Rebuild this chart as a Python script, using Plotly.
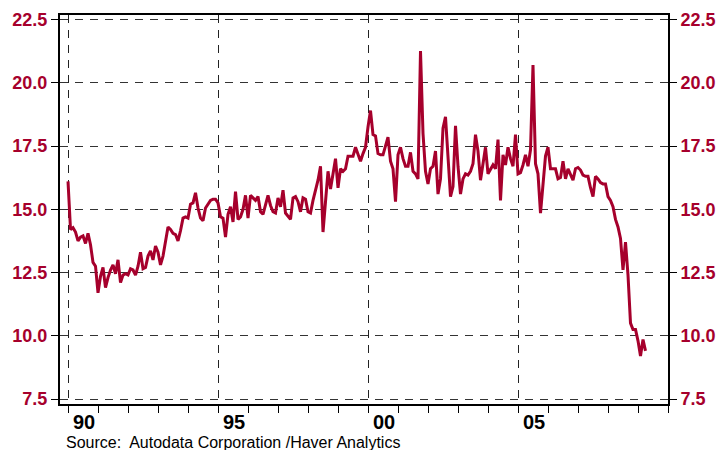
import plotly.graph_objects as go

# Monthly values, Jan 1990 .. Apr 2009 (millions of units, SAAR)
start_year = 1990
values = [
    16.1, 14.2, 14.27, 14.1, 13.75, 13.9, 13.95, 13.65, 14.05, 13.6, 12.9, 12.75,   # 1990
    11.7, 12.35, 12.7, 11.9, 12.3, 12.6, 12.8, 12.45, 13.0, 12.1, 12.4, 12.45,     # 1991
    12.4, 12.65, 12.6, 12.4, 12.75, 13.3, 12.65, 12.7, 13.15, 13.35, 13.0, 13.55,  # 1992
    13.3, 12.8, 13.15, 13.8, 14.3, 14.2, 14.05, 14.0, 13.75, 14.15, 14.65, 14.7,   # 1993
    14.65, 15.2, 15.25, 15.65, 15.05, 14.65, 14.55, 15.05, 15.2, 15.35, 15.4, 15.4, # 1994
    15.25, 14.7, 14.65, 13.9, 14.8, 15.1, 14.5, 15.7, 14.6, 14.7, 15.0, 15.55,     # 1995
    14.65, 15.55, 15.45, 15.35, 15.5, 14.9, 14.8, 15.15, 15.55, 15.15, 14.9, 14.85, # 1996
    15.45, 15.1, 15.75, 14.85, 14.7, 14.6, 15.45, 15.5, 15.3, 14.9, 15.45, 15.4,   # 1997
    14.9, 14.85, 15.35, 15.75, 16.15, 16.7, 14.1, 15.3, 16.5, 15.8, 16.5, 17.0,    # 1998
    15.85, 16.6, 16.5, 16.6, 17.1, 17.1, 17.1, 17.45, 17.15, 16.9, 17.2, 17.45,    # 1999
    18.25, 18.9, 17.95, 17.9, 17.2, 17.15, 17.15, 17.5, 17.85, 16.9, 16.6, 15.3,   # 2000
    17.15, 17.45, 17.0, 16.7, 16.7, 17.25, 16.5, 16.4, 16.2, 21.25, 18.0, 16.5,    # 2001
    16.0, 16.6, 16.7, 17.3, 15.6, 16.2, 18.2, 18.65, 17.2, 15.5, 15.9, 18.3,       # 2002
    16.7, 15.6, 16.2, 16.4, 16.35, 16.5, 16.8, 17.95, 17.3, 16.15, 16.8, 17.45,    # 2003
    16.4, 16.55, 16.75, 16.6, 17.75, 15.35, 17.15, 16.75, 17.45, 17.0, 16.7, 17.95, # 2004
    16.4, 16.45, 16.75, 17.15, 16.7, 17.35, 20.7, 16.8, 16.4, 14.85, 15.9, 17.1,   # 2005
    17.45, 16.6, 16.6, 16.6, 16.2, 16.25, 16.9, 16.2, 16.6, 16.35, 16.15, 16.6,    # 2006
    16.65, 16.55, 16.35, 16.3, 16.3, 15.85, 15.5, 16.3, 16.2, 16.05, 16.0, 16.0,   # 2007
    15.5, 15.35, 15.1, 14.6, 14.3, 13.85, 12.6, 13.7, 12.4, 10.5, 10.25, 10.25,    # 2008
    9.8, 9.2, 9.85, 9.4,                                                            # 2009
]
x_vals = [start_year + i / 12 for i in range(len(values))]

x_tickvals = [1990, 1995, 2000, 2005]
x_ticktext = ["90", "95", "00", "05"]
y_tickvals = [7.5, 10.0, 12.5, 15.0, 17.5, 20.0, 22.5]
y_ticktext = ["7.5", "10.0", "12.5", "15.0", "17.5", "20.0", "22.5"]

line_color = "#A6002C"
label_color = "#A6002C"
font_family = "Liberation Sans, Arial, sans-serif"
y_range = [7.303, 22.678]
x_range = [1989.733, 2010.0]

fig = go.Figure()
fig.add_trace(go.Scatter(x=x_vals, y=values, mode="lines",
                         line=dict(color=line_color, width=3),
                         showlegend=False, hoverinfo="x+y"))
fig.add_trace(go.Scatter(x=x_vals, y=values, mode="lines", yaxis="y2",
                         line=dict(color="rgba(0,0,0,0)", width=0),
                         showlegend=False, hoverinfo="skip"))

fig.update_layout(
    width=716, height=450,
    margin=dict(l=60, r=48, t=15, b=46),
    paper_bgcolor="white", plot_bgcolor="white",
    font=dict(family=font_family),
    xaxis=dict(
        range=x_range, tickmode="array", tickvals=x_tickvals, ticktext=x_ticktext,
        ticks="outside", ticklen=7, tickwidth=1.3, tickcolor="black",
        ticklabelshift=16, ticklabelstandoff=-8, automargin=False,
        tickfont=dict(family=font_family, size=20, color="black", weight="bold"),
        showgrid=True, gridcolor="#222222", gridwidth=1.2, griddash="8px,7px",
        showline=True, linecolor="black", linewidth=2, mirror=True,
        zeroline=False,
        minor=dict(tickmode="linear", tick0=1990, dtick=1, ticks="outside",
                   ticklen=7, tickwidth=1.3, tickcolor="black", showgrid=False),
    ),
    yaxis=dict(
        range=y_range, tickmode="array", tickvals=y_tickvals, ticktext=y_ticktext,
        ticks="outside", ticklen=7, tickwidth=1.3, tickcolor="black", automargin=False,
        tickfont=dict(family=font_family, size=18, color=label_color, weight="bold"),
        showgrid=True, gridcolor="#333333", gridwidth=1.2, griddash="8px,7px",
        showline=True, linecolor="black", linewidth=2, mirror=True,
        zeroline=False,
    ),
    yaxis2=dict(
        range=y_range, overlaying="y", side="right", automargin=False,
        tickmode="array", tickvals=y_tickvals, ticktext=y_ticktext,
        ticks="outside", ticklen=7, tickwidth=1.3, tickcolor="black",
        tickfont=dict(family=font_family, size=18, color=label_color, weight="bold"),
        showgrid=False, showline=True, linecolor="black", linewidth=2,
        zeroline=False,
    ),
    annotations=[dict(
        text="Source:  Autodata Corporation /Haver Analytics",
        xref="paper", yref="paper", x=0.0066, y=-0.1,
        xanchor="left", yanchor="middle", showarrow=False,
        font=dict(family=font_family, size=16, color="black"),
    )],
)

fig.write_html("out.html", config={"displayModeBar": False},
               post_script="document.body.style.margin='0';document.body.style.overflow='hidden';")
